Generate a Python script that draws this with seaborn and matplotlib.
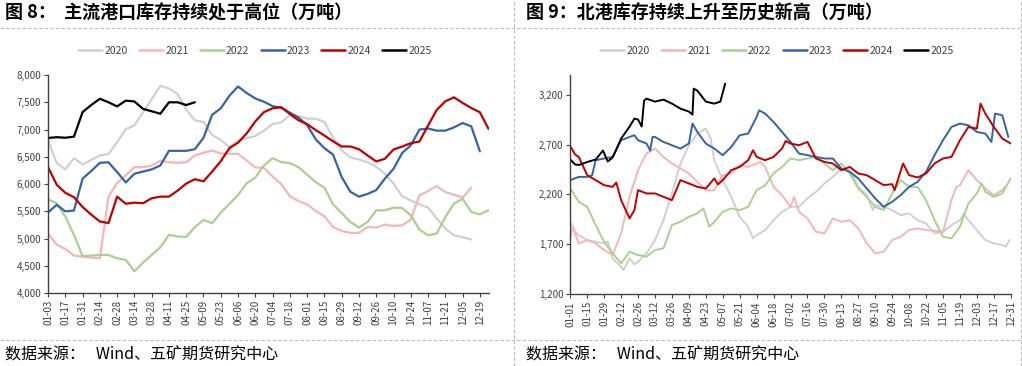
import matplotlib
matplotlib.use('Agg')
import matplotlib.pyplot as plt
import matplotlib.ticker as mticker
from matplotlib.lines import Line2D
import numpy as np
import pandas as pd
import seaborn as sns

sns.set_theme(style='white')
plt.rcParams['font.family'] = ['Noto Sans CJK SC', 'DejaVu Sans']
plt.rcParams['axes.unicode_minus'] = False

# 图8：主流港口库存（周度，万吨）
left_ticks = ['01-03', '01-17', '01-31', '02-14', '02-28', '03-14', '03-28', '04-11', '04-25',
              '05-09', '05-23', '06-06', '06-20', '07-04', '07-18', '08-01', '08-15', '08-29',
              '09-12', '09-26', '10-10', '10-24', '11-07', '11-21', '12-05', '12-19']

port_2020 = [6800, 6390, 6270, 6475, 6360, 6445, 6525, 6550, 6770, 7010, 7075, 7315, 7560,
             7800, 7755, 7650, 7370, 7170, 7140, 6900, 6810, 6680, 6790, 6840, 6880, 6980,
             7100, 7130, 7270, 7250, 7200, 7200, 7140, 6850, 6620, 6490, 6450, 6400, 6320,
             6190, 6010, 5775, 5700, 5630, 5570, 5370, 5185, 5060, 5030, 4985]
port_2021 = [5090, 4890, 4810, 4690, 4670, 4650, 4640, 5770, 6020, 6160, 6310, 6310, 6340,
             6430, 6400, 6390, 6400, 6525, 6573, 6616, 6560, 6555, 6555, 6433, 6305, 6299,
             6140, 6000, 5775, 5690, 5629, 5507, 5409, 5214, 5141, 5105, 5105, 5214, 5202,
             5257, 5233, 5245, 5349, 5793, 5873, 5964, 5854, 5806, 5751, 5934]
port_2022 = [5720, 5650, 5405, 5070, 4680, 4690, 4700, 4700, 4640, 4610, 4400, 4560, 4700,
             4840, 5070, 5040, 5030, 5210, 5343, 5282, 5478, 5637, 5800, 6015, 6120, 6342,
             6476, 6403, 6385, 6311, 6171, 6037, 5934, 5629, 5470, 5306, 5202, 5306, 5519,
             5519, 5568, 5562, 5428, 5166, 5062, 5093, 5397, 5641, 5732, 5489, 5446, 5519]
port_2023 = [5480, 5620, 5500, 5515, 6100, 6240, 6390, 6400, 6220, 6030, 6190, 6230, 6270,
             6340, 6610, 6610, 6610, 6640, 6850, 7270, 7390, 7620, 7790, 7670, 7570, 7510,
             7430, 7400, 7310, 7220, 7080, 6820, 6660, 6540, 6130, 5860, 5770, 5820, 5890,
             6100, 6280, 6570, 6710, 7000, 7020, 6980, 6980, 7040, 7120, 7060, 6600]
port_2024 = [6310, 5990, 5840, 5760, 5580, 5440, 5315, 5285, 5770, 5640, 5660, 5650, 5740,
             5770, 5770, 5880, 6010, 6090, 6050, 6230, 6420, 6660, 6760, 6930, 7150, 7320,
             7390, 7410, 7286, 7170, 7100, 6990, 6890, 6785, 6690, 6690, 6640, 6525, 6415,
             6464, 6634, 6689, 6750, 6781, 7073, 7360, 7518, 7591, 7488, 7396, 7317, 7012]
port_2025 = [6845, 6860, 6850, 6870, 7320, 7450, 7565, 7500, 7425, 7530, 7515, 7380, 7335,
             7290, 7500, 7500, 7450, 7500]

# 图9：北港库存（日度，万吨），按日读取的关键点
right_ticks = ['01-01', '01-15', '01-29', '02-12', '02-26', '03-12', '03-26', '04-09', '04-23',
               '05-07', '05-21', '06-04', '06-18', '07-02', '07-16', '07-30', '08-13', '08-27',
               '09-10', '09-24', '10-08', '10-22', '11-05', '11-19', '12-03', '12-17', '12-31']

north_2020_day = [0, 4, 7, 14, 21, 28, 31, 35, 42, 44, 49, 53, 56, 63, 70, 77, 84, 91, 98, 105,
                  112, 116, 119, 126, 133, 140, 147, 151, 154, 161, 168, 175, 182, 189, 196,
                  203, 210, 217, 224, 231, 238, 245, 250, 252, 259, 266, 273, 280, 287, 294,
                  301, 308, 315, 322, 325, 329, 336, 343, 350, 357, 360, 363]
north_2020 = [1926, 1830, 1793, 1743, 1726, 1710, 1730, 1560, 1476, 1443, 1560, 1500, 1526,
              1610, 1743, 1943, 2210, 2510, 2693, 2810, 2860, 2760, 2543, 2343, 2176, 1976,
              1876, 1760, 1793, 1843, 1943, 2026, 2076, 2076, 2160, 2226, 2310, 2376, 2460,
              2443, 2276, 2193, 2043, 2093, 2076, 2043, 1993, 2010, 1943, 1910, 1810, 1826,
              1893, 1943, 2010, 1943, 1843, 1743, 1710, 1693, 1676, 1743]

north_2021_day = [0, 2, 7, 14, 21, 28, 35, 42, 49, 56, 63, 70, 77, 84, 91, 98, 105, 112, 119,
                  126, 133, 140, 147, 154, 157, 161, 168, 175, 182, 185, 189, 196, 203, 210,
                  217, 224, 231, 238, 245, 252, 259, 266, 273, 280, 287, 294, 301, 308, 315,
                  319, 322, 329, 336, 343, 350, 357, 359]
north_2021 = [1776, 1876, 1710, 1743, 1710, 1643, 1593, 1810, 2176, 2443, 2610, 2660, 2576,
              2510, 2460, 2410, 2326, 2243, 2243, 2393, 2410, 2493, 2476, 2510, 2526, 2476,
              2276, 2193, 2076, 2176, 2026, 1960, 1826, 1810, 1960, 1926, 1943, 1860, 1710,
              1610, 1626, 1743, 1776, 1843, 1860, 1843, 1836, 1826, 2143, 2276, 2293, 2443,
              2343, 2260, 2193, 2243, 2276]

north_2022_day = [0, 7, 14, 21, 28, 35, 42, 49, 56, 63, 70, 77, 84, 91, 98, 105, 110, 115, 119,
                  126, 133, 140, 147, 154, 161, 168, 175, 182, 189, 196, 203, 210, 217, 224,
                  231, 238, 245, 252, 259, 266, 273, 280, 287, 294, 301, 308, 315, 322, 329,
                  336, 340, 343, 350, 357, 364]
north_2022 = [2260, 2126, 2076, 1893, 1726, 1610, 1510, 1626, 1593, 1576, 1643, 1660, 1893,
              1926, 1976, 2010, 2060, 1876, 1926, 2026, 2060, 2043, 2076, 2243, 2290, 2410,
              2476, 2560, 2543, 2560, 2576, 2510, 2443, 2510, 2410, 2260, 2176, 2076, 2043,
              2210, 2343, 2276, 2276, 2143, 1943, 1776, 1760, 1876, 2110, 2210, 2310, 2226,
              2176, 2210, 2360]

north_2023_day = [0, 7, 14, 18, 21, 28, 35, 42, 49, 53, 56, 63, 66, 68, 70, 77, 84, 91, 98, 101,
                  105, 112, 119, 126, 133, 140, 147, 154, 156, 161, 168, 175, 182, 189, 196,
                  203, 210, 217, 224, 231, 238, 245, 252, 259, 266, 273, 280, 287, 294, 301,
                  308, 315, 322, 329, 336, 343, 348, 351, 357, 362]
north_2023 = [2343, 2376, 2376, 2390, 2543, 2560, 2576, 2743, 2776, 2793, 2743, 2710, 2640,
              2776, 2776, 2726, 2693, 2660, 2710, 2910, 2826, 2710, 2660, 2593, 2676, 2793,
              2810, 2976, 3043, 3010, 2926, 2826, 2726, 2610, 2593, 2576, 2560, 2560, 2460,
              2426, 2360, 2260, 2160, 2076, 2126, 2193, 2276, 2326, 2426, 2593, 2743, 2876,
              2910, 2893, 2826, 2810, 2726, 3010, 2993, 2776]

north_2024_day = [0, 4, 7, 14, 21, 28, 35, 38, 42, 49, 53, 56, 63, 70, 77, 84, 91, 98, 105, 112,
                  119, 122, 126, 133, 140, 147, 151, 154, 161, 168, 175, 178, 182, 189, 196,
                  203, 210, 217, 224, 231, 238, 245, 252, 259, 266, 268, 275, 280, 287, 294,
                  301, 308, 315, 322, 329, 336, 339, 343, 350, 357, 364]
north_2024 = [2683, 2600, 2576, 2393, 2343, 2293, 2276, 2320, 2143, 1960, 2043, 2243, 2210,
              2210, 2176, 2143, 2343, 2310, 2276, 2260, 2360, 2300, 2343, 2443, 2476, 2543,
              2643, 2576, 2543, 2576, 2660, 2736, 2710, 2693, 2726, 2560, 2526, 2510, 2443,
              2476, 2410, 2393, 2343, 2293, 2303, 2243, 2510, 2393, 2370, 2410, 2510, 2560,
              2576, 2743, 2876, 2860, 3110, 3010, 2876, 2760, 2710]

north_2025_day = [0, 4, 7, 14, 21, 27, 31, 35, 42, 49, 53, 56, 59, 61, 63, 70, 77, 84, 91, 98,
                  101, 102, 105, 112, 119, 124, 128]
north_2025 = [2550, 2500, 2495, 2525, 2550, 2640, 2530, 2570, 2760, 2880, 2960, 2950, 2880,
              3140, 3160, 3130, 3150, 3110, 3060, 3030, 3000, 3260, 3240, 3130, 3110, 3130, 3310]

years = ['2020', '2021', '2022', '2023', '2024', '2025']
colors = ['#D0D0D0', '#F4B6B6', '#A9D18E', '#3563AA', '#C00000', '#000000']
palette = dict(zip(years, colors))

port_df = pd.concat([
    pd.DataFrame({'week': np.arange(len(v)), 'value': v, 'year': y})
    for y, v in zip(years, [port_2020, port_2021, port_2022, port_2023, port_2024, port_2025])
])
north_df = pd.concat([
    pd.DataFrame({'day': d, 'value': v, 'year': y})
    for y, d, v in zip(years,
                       [north_2020_day, north_2021_day, north_2022_day, north_2023_day,
                        north_2024_day, north_2025_day],
                       [north_2020, north_2021, north_2022, north_2023, north_2024, north_2025])
])

fig = plt.figure(figsize=(10.22, 3.66), dpi=100)
ax1 = fig.add_axes([0.047, 0.199, 0.431, 0.596])
ax2 = fig.add_axes([0.558, 0.196, 0.431, 0.600])

sns.lineplot(data=port_df, x='week', y='value', hue='year', palette=palette,
             linewidth=1.6, ax=ax1, legend=False)
sns.lineplot(data=north_df, x='day', y='value', hue='year', palette=palette,
             linewidth=1.4, ax=ax2, legend=False)

ax1.set_xlim(0, 51)
ax1.set_ylim(4000, 8000)
ax1.set_yticks(np.arange(4000, 8001, 500))
ax1.set_xticks(np.arange(0, 51, 2))
ax1.set_xticklabels(left_ticks, rotation=90)

ax2.set_xlim(0, 364)
ax2.set_ylim(1200, 3400)
ax2.set_yticks(np.arange(1200, 3201, 500))
ax2.set_xticks(np.arange(0, 365, 14))
ax2.set_xticklabels(right_ticks, rotation=90)

for ax in (ax1, ax2):
    ax.yaxis.set_major_formatter(mticker.StrMethodFormatter('{x:,.0f}'))
    ax.set_xlabel('')
    ax.set_ylabel('')
    for s in ('top', 'right'):
        ax.spines[s].set_visible(False)
    for s in ('left', 'bottom'):
        ax.spines[s].set_color('#404040')
        ax.spines[s].set_linewidth(1.0)
    ax.tick_params(axis='both', which='major', labelsize=7, colors='#404040',
                   length=3, width=0.8, direction='out', pad=2,
                   bottom=True, left=True)
    ax.grid(False)

# 图例
handles = [Line2D([0], [0], color=c, lw=1.8) for c in colors]
fig.legend(handles, years, loc='center', bbox_to_anchor=(255 / 1022, 0.861), ncol=6,
           frameon=False, fontsize=7.5, handlelength=2.3, handletextpad=0.2,
           columnspacing=1.1, labelcolor='#404040')
fig.legend(handles, years, loc='center', bbox_to_anchor=(777 / 1022, 0.861), ncol=6,
           frameon=False, fontsize=7.5, handlelength=2.3, handletextpad=0.2,
           columnspacing=1.1, labelcolor='#404040')

# 标题与来源
fig.text(5 / 1022, 1 - 13 / 366, '图 8：  主流港口库存持续处于高位（万吨）', fontsize=13,
         fontweight='bold', va='center', ha='left', color='#000000')
fig.text(526 / 1022, 1 - 13 / 366, '图 9：北港库存持续上升至历史新高（万吨）', fontsize=13,
         fontweight='bold', va='center', ha='left', color='#000000')
fig.text(5 / 1022, 1 - 355 / 366, '数据来源：   Wind、五矿期货研究中心', fontsize=11.5,
         va='center', ha='left', color='#000000')
fig.text(526 / 1022, 1 - 355 / 366, '数据来源：   Wind、五矿期货研究中心', fontsize=11.5,
         va='center', ha='left', color='#000000')

# 虚线分隔
dash = dict(color='#BBBBBB', lw=0.8, linestyle=(0, (3, 2)), transform=fig.transFigure)
fig.add_artist(Line2D([0, 1], [1 - 28 / 366, 1 - 28 / 366], **dash))
fig.add_artist(Line2D([0, 1], [1 - 340 / 366, 1 - 340 / 366], **dash))
fig.add_artist(Line2D([514 / 1022, 514 / 1022], [0, 1], **dash))
fig.add_artist(Line2D([1021 / 1022, 1021 / 1022], [0, 1], **dash))

fig.savefig('out.png', dpi=100)
